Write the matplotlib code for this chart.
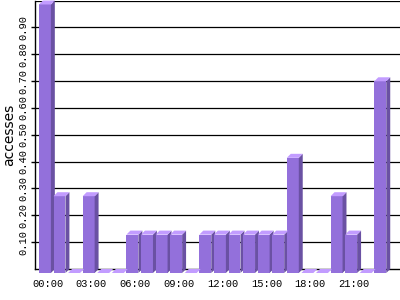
import matplotlib
matplotlib.use("Agg")
import matplotlib.pyplot as plt
from matplotlib.patches import Polygon

hours = list(range(24))
values = [1.0, 0.286, 0.0, 0.286, 0.0, 0.0, 0.143, 0.143, 0.143, 0.143, 0.0, 0.143,
          0.143, 0.143, 0.143, 0.143, 0.143, 0.429, 0.0, 0.0, 0.286, 0.143, 0.0, 0.714]
xtick_hours = [0, 3, 6, 9, 12, 15, 18, 21]
xtick_labels = ["00:00", "03:00", "06:00", "09:00", "12:00", "15:00", "18:00", "21:00"]
ytick_values = [0.1, 0.2, 0.3, 0.4, 0.5, 0.6, 0.7, 0.8, 0.9]
ytick_labels = ["0.10", "0.20", "0.30", "0.40", "0.50", "0.60", "0.70", "0.80", "0.90"]

front_c = "#9370DB"
side_c = "#6A51A3"
top_c = "#C29CFF"

fig = plt.figure(figsize=(4, 3), dpi=100)
ax = fig.add_axes([35/400, 31/300, 365/400, 268.5/300])
ax.set_xlim(-0.27, 24.76)
ax.set_ylim(0, 1.0)

w = 0.82
dx = 0.27
dy = 4/269

for y in ytick_values + [1.0]:
    ax.axhline(y, color="black", lw=0.9, zorder=1)

for h, v in zip(hours, values):
    x = h
    front = Polygon([(x, -dy), (x + w, -dy), (x + w, v - dy), (x, v - dy)],
                    closed=True, facecolor=front_c, edgecolor="none", zorder=3, clip_on=False)
    side = Polygon([(x + w, -dy), (x + w + dx, 0), (x + w + dx, v), (x + w, v - dy)],
                   closed=True, facecolor=side_c, edgecolor="none", zorder=3, clip_on=False)
    top = Polygon([(x, v - dy), (x + w, v - dy), (x + w + dx, v), (x + dx, v)],
                  closed=True, facecolor=top_c, edgecolor="none", zorder=4, clip_on=False)
    for p in (front, side, top):
        ax.add_patch(p)

for s in ["right", "top"]:
    ax.spines[s].set_visible(False)
ax.spines["left"].set_linewidth(1.0)
ax.spines["bottom"].set_linewidth(1.0)
ax.spines["left"].set_zorder(5)
ax.spines["bottom"].set_zorder(2)

ax.set_xticks([h + 0.6 for h in xtick_hours])
ax.set_xticklabels(xtick_labels, fontfamily="Liberation Mono", fontsize=7.5)
ax.tick_params(axis="x", length=0, pad=7)

ax.set_yticks(ytick_values)
ax.set_yticklabels(ytick_labels, fontfamily="Liberation Mono", fontsize=7.5,
                   rotation=90, va="center")
ax.tick_params(axis="y", length=3, width=1, pad=1.5, direction="out")

ax.set_ylabel("accesses", fontsize=10)
ax.yaxis.set_label_coords(-0.052, 0.5)

fig.savefig("out.png", dpi=100)
